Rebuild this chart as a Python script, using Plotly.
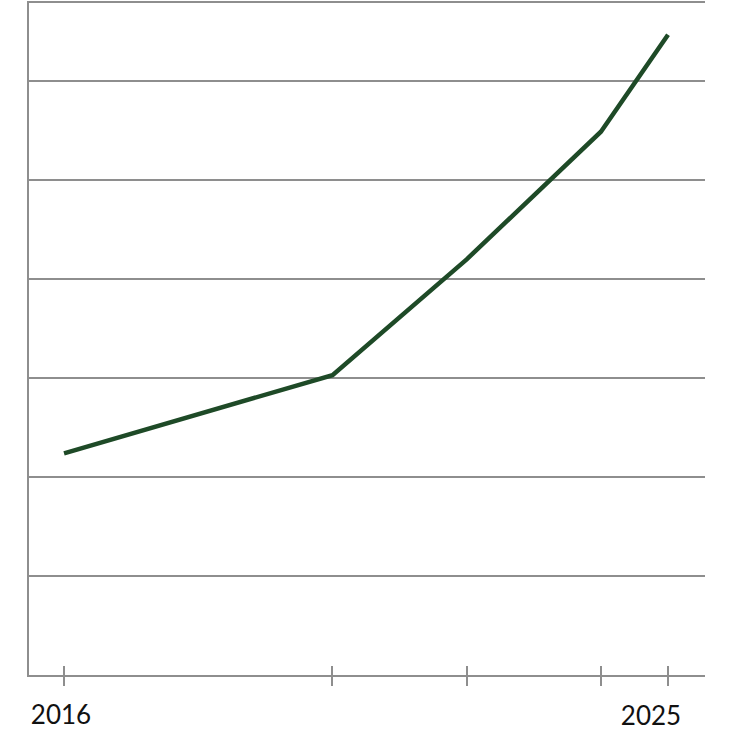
import plotly.graph_objects as go

years = [2016, 2020, 2022, 2024, 2025]
values = [2.24, 3.03, 4.2, 5.49, 6.47]
tick_years = [2016, 2020, 2022, 2024, 2025]
tick_labels_first = ["2016", "", "", "", ""]
tick_labels_last = ["", "", "", "", "2025"]

line_color = "#1e4a27"
grid_color = "#8e8e8e"

fig = go.Figure()
fig.add_trace(go.Scatter(x=years, y=values, mode="lines",
                         line=dict(color=line_color, width=4.5), showlegend=False,
                         hoverinfo="skip"))
# invisible trace for second x axis (crossing tick marks + last label)
fig.add_trace(go.Scatter(x=years, y=values, mode="lines", xaxis="x2",
                         line=dict(width=0), showlegend=False, hoverinfo="skip",
                         opacity=0))

xr = [2015.478, 2025.551]
fig.update_layout(
    width=730, height=744,
    margin=dict(l=29, r=25, t=1, b=69),
    paper_bgcolor="white", plot_bgcolor="white",
    font=dict(family="Lato, 'Open Sans', sans-serif", size=26, color="#111111"),
    xaxis=dict(range=xr, tickvals=tick_years, ticktext=tick_labels_first,
               ticks="outside", ticklen=9, tickwidth=2, tickcolor=grid_color,
               showgrid=False, zeroline=False, showline=True, linewidth=2,
               linecolor=grid_color, mirror=True, ticklabelstandoff=7,
               ticklabelshift=-3,
               tickfont=dict(size=26, color="#111111")),
    xaxis2=dict(range=xr, tickvals=tick_years, ticktext=tick_labels_last,
                overlaying="x", side="bottom", ticks="inside", ticklen=9,
                tickwidth=2, tickcolor=grid_color, showgrid=False, zeroline=False,
                showline=False, showticklabels=True, ticklabelstandoff=23,
                ticklabelshift=-17,
                tickfont=dict(size=26, color="#111111")),
    yaxis=dict(range=[0, 6.79], dtick=1, showticklabels=False, ticks="",
               showgrid=True, gridcolor=grid_color, gridwidth=2, zeroline=False,
               showline=True, linewidth=2, linecolor=grid_color),
)
fig.write_html("out.html", config={"displayModeBar": False},
               post_script="document.body.style.margin='0';")
